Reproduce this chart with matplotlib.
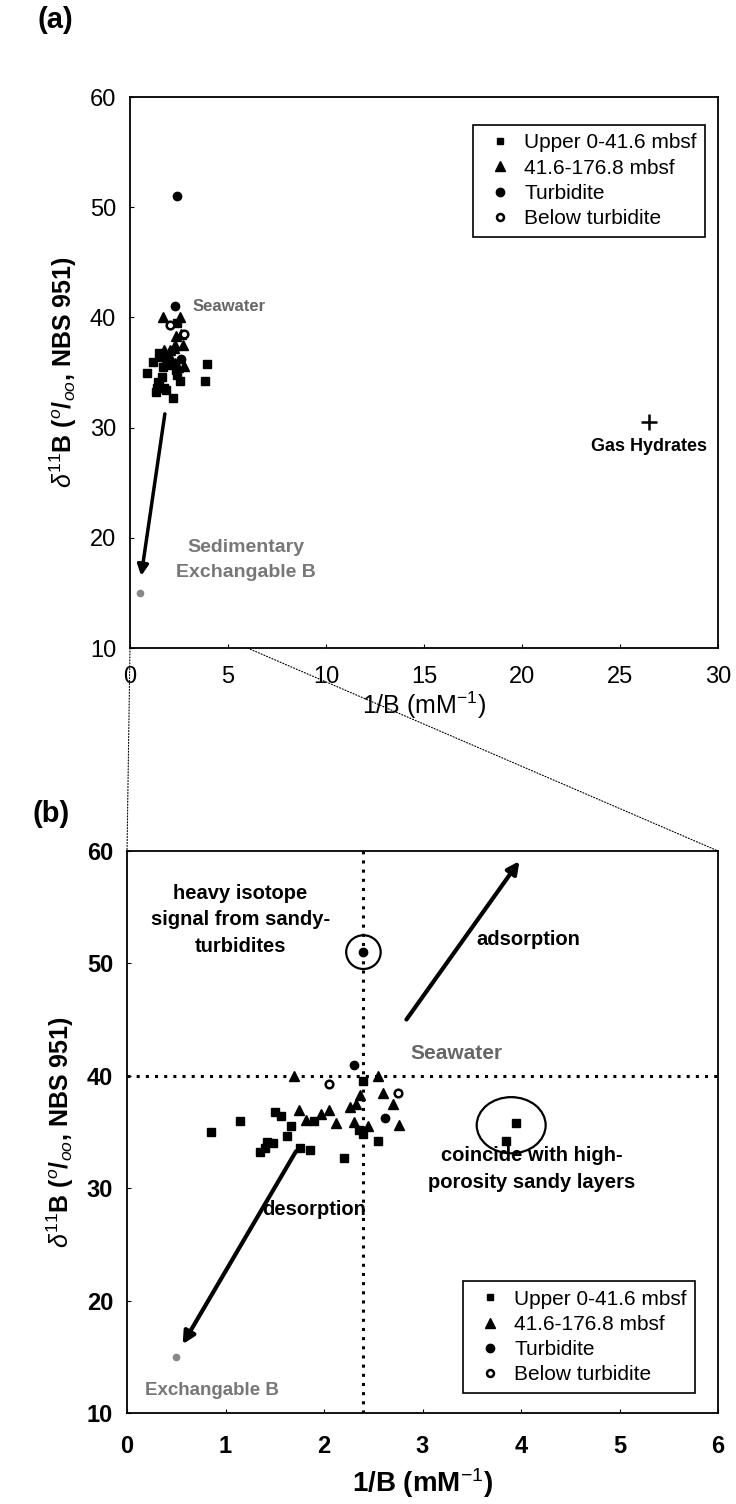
import numpy as np
import matplotlib
matplotlib.use('Agg')
import matplotlib.pyplot as plt
from matplotlib.patches import Ellipse, ConnectionPatch
from matplotlib.lines import Line2D

plt.rcParams['font.family'] = ['Liberation Sans', 'DejaVu Sans']
plt.rcParams['mathtext.fontset'] = 'custom'
plt.rcParams['mathtext.rm'] = 'Liberation Sans'
plt.rcParams['mathtext.it'] = 'Liberation Sans:italic'
plt.rcParams['mathtext.bf'] = 'Liberation Sans:bold'

# upper 0-41.6 mbsf (squares)
upper_x = [0.85, 1.15, 1.35, 1.40, 1.42, 1.48, 1.50, 1.56, 1.62, 1.66, 1.76, 1.86,
           1.90, 2.20, 2.35, 2.40, 2.40, 2.55, 3.85, 3.95]
upper_y = [35.0, 36.0, 33.2, 33.6, 34.1, 34.0, 36.8, 36.4, 34.6, 35.5, 33.6, 33.4,
           36.0, 32.7, 35.2, 34.8, 39.5, 34.2, 34.2, 35.8]
# 41.6-176.8 mbsf (triangles)
mid_x = [1.70, 1.75, 1.82, 1.97, 2.05, 2.12, 2.26, 2.30, 2.32, 2.37, 2.45, 2.55,
         2.60, 2.70, 2.76]
mid_y = [40.0, 37.0, 36.1, 36.6, 37.0, 35.8, 37.2, 35.9, 37.5, 38.3, 35.5, 40.0,
         38.5, 37.5, 35.6]
# turbidite (filled circles)
turb_x = [2.30, 2.40, 2.62]
turb_y = [41.0, 51.0, 36.2]
# below turbidite (open circles)
below_x = [2.05, 2.75]
below_y = [39.3, 38.5]
# end members
exch_x, exch_y = 0.5, 15.0
gas_x, gas_y = 26.5, 30.5
seawater_x, seawater_y = 2.4, 40.0

legend_labels = ['Upper 0-41.6 mbsf', '41.6-176.8 mbsf', 'Turbidite', 'Below turbidite']
ylab = r'$\delta^{11}$B ($^{o}$/$_{oo}$, NBS 951)'
xlab = r'1/B (mM$^{-1}$)'


def draw_points(ax):
    ax.plot(upper_x, upper_y, 's', color='black', ms=5.5, ls='none')
    ax.plot(mid_x, mid_y, '^', color='black', ms=7, ls='none')
    ax.plot(turb_x, turb_y, 'o', color='black', ms=6, ls='none')
    ax.plot(below_x, below_y, 'o', mfc='white', mec='black', mew=1.8, ms=5.5, ls='none')
    ax.plot([exch_x], [exch_y], 'o', color='#888888', ms=4.5, ls='none')


def add_legend(ax, **kw):
    handles = [Line2D([], [], marker='s', color='black', ls='none', ms=5),
               Line2D([], [], marker='^', color='black', ls='none', ms=7),
               Line2D([], [], marker='o', color='black', ls='none', ms=6),
               Line2D([], [], marker='o', mfc='white', mec='black', mew=1.8, ls='none', ms=5)]
    leg = ax.legend(handles, legend_labels, fontsize=15, frameon=True, fancybox=False,
                    edgecolor='black', framealpha=1, handlelength=1.8, handletextpad=0.25,
                    labelspacing=0.3, borderpad=0.4, borderaxespad=0, **kw)
    leg.get_frame().set_linewidth(1.2)


fig = plt.figure(figsize=(7.36, 15.04), dpi=100)

# ---- panel (a)
ax1 = fig.add_axes([0.1766, 0.5691, 0.799, 0.3664])
draw_points(ax1)
ax1.plot([gas_x], [gas_y], '+', color='black', ms=11, mew=1.8)
ax1.text(gas_x, gas_y - 2.2, 'Gas Hydrates', ha='center', va='center', fontsize=13, fontweight='bold')
ax1.text(3.2, 41.0, 'Seawater', ha='left', va='center', fontsize=12, color='#666666', fontweight='bold')
ax1.text(5.9, 18.0, 'Sedimentary\nExchangable B', ha='center', va='center', fontsize=14,
         color='#777777', fontweight='bold', linespacing=1.6)
ax1.annotate('', xy=(0.55, 16.3), xytext=(1.8, 31.5),
             arrowprops=dict(arrowstyle='-|>', lw=2.5, color='black', mutation_scale=16))
ax1.set_xlim(0, 30)
ax1.set_ylim(10, 60)
ax1.set_xticks(np.arange(0, 31, 5))
ax1.set_yticks(np.arange(10, 61, 10))
ax1.tick_params(labelsize=17, direction='in', length=3)
ax1.tick_params(axis='x', pad=13)
ax1.tick_params(axis='y', pad=10)
ax1.set_xlabel(xlab, fontsize=18, labelpad=1)
ax1.set_ylabel(ylab, fontsize=18, fontweight='bold', labelpad=8)
add_legend(ax1, loc='upper right', bbox_to_anchor=(0.978, 0.949))
ax1.text(-0.157, 1.14, '(a)', transform=ax1.transAxes, fontsize=21, fontweight='bold',
         ha='left', va='center')

# ---- panel (b)
ax2 = fig.add_axes([0.1726, 0.0605, 0.803, 0.3737])
ax2.axvline(seawater_x, color='black', ls=(0, (1, 2)), lw=2.2)
ax2.axhline(seawater_y, color='black', ls=(0, (1, 2)), lw=2.2)
draw_points(ax2)
ax2.add_patch(Ellipse((2.4, 51.0), 0.35, 3.0, fill=False, lw=1.6, color='black'))
ax2.add_patch(Ellipse((3.9, 35.6), 0.7, 5.0, fill=False, lw=1.6, color='black'))
ax2.annotate('', xy=(4.0, 59.3), xytext=(2.82, 44.8),
             arrowprops=dict(arrowstyle='-|>', lw=3, color='black', mutation_scale=18))
ax2.annotate('', xy=(0.55, 15.9), xytext=(1.73, 33.5),
             arrowprops=dict(arrowstyle='-|>', lw=3, color='black', mutation_scale=18))
ax2.text(1.15, 53.9, 'heavy isotope\nsignal from sandy-\nturbidites', ha='center', va='center',
         fontsize=14.5, fontweight='bold', linespacing=1.5)
ax2.text(3.55, 52.1, 'adsorption', ha='left', va='center', fontsize=14.5, fontweight='bold')
ax2.text(2.88, 42.0, 'Seawater', ha='left', va='center', fontsize=15, color='#666666', fontweight='bold')
ax2.text(4.11, 31.7, 'coincide with high-\nporosity sandy layers', ha='center', va='center',
         fontsize=14.5, fontweight='bold', linespacing=1.5)
ax2.text(1.9, 28.1, 'desorption', ha='center', va='center', fontsize=14.5, fontweight='bold')
ax2.text(0.86, 12.0, 'Exchangable B', ha='center', va='center', fontsize=13.5,
         color='#777777', fontweight='bold')
ax2.set_xlim(0, 6)
ax2.set_ylim(10, 60)
ax2.set_xticks(np.arange(0, 7, 1))
ax2.set_yticks(np.arange(10, 61, 10))
ax2.tick_params(labelsize=17, direction='in', length=3)
ax2.tick_params(axis='x', pad=16)
ax2.tick_params(axis='y', pad=10)
for lab in ax2.get_xticklabels() + ax2.get_yticklabels():
    lab.set_fontweight('bold')
ax2.set_xlabel(xlab, fontsize=20, fontweight='bold', labelpad=6)
ax2.set_ylabel(ylab, fontsize=18, fontweight='bold', labelpad=8)
add_legend(ax2, loc='lower right', bbox_to_anchor=(0.961, 0.036))
ax2.text(-0.16, 1.066, '(b)', transform=ax2.transAxes, fontsize=21, fontweight='bold',
         ha='left', va='center')

for ax in (ax1, ax2):
    for sp in ax.spines.values():
        sp.set_linewidth(1.3)

# zoom connector lines from panel (a) to panel (b)
for xv in (0, 6):
    con = ConnectionPatch(xyA=(xv, 10), coordsA=ax1.transData, xyB=(xv, 60), coordsB=ax2.transData,
                          color='black', lw=0.8, ls=':')
    fig.add_artist(con)

fig.savefig('out.png', dpi=100)
